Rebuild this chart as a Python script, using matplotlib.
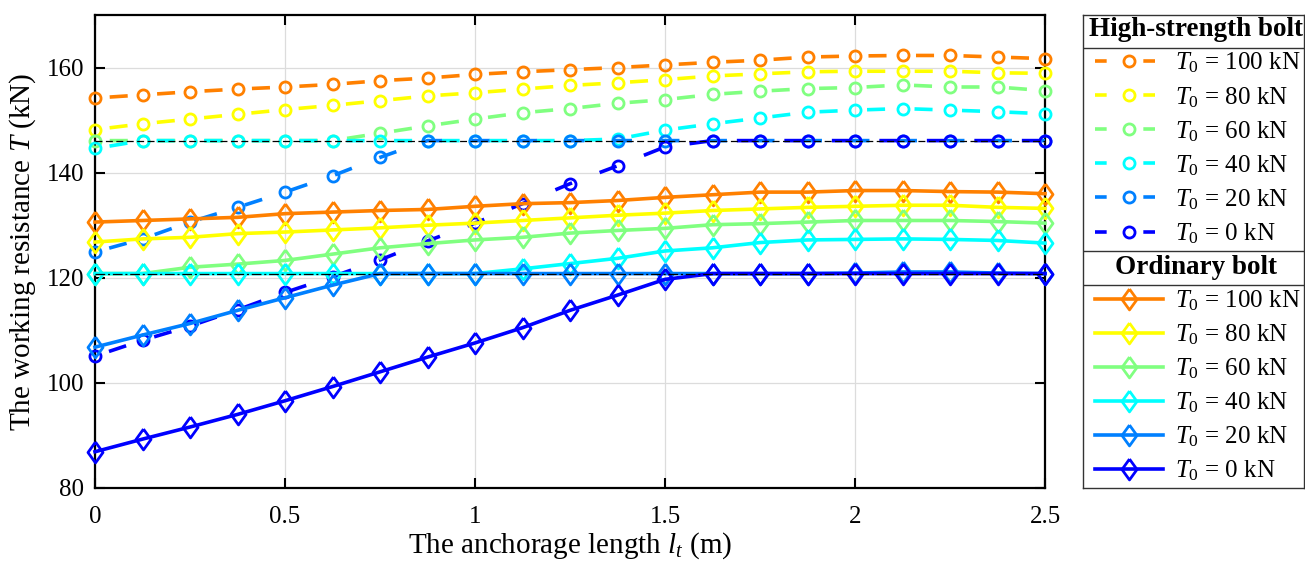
import matplotlib
matplotlib.use("Agg")
import matplotlib.pyplot as plt
from matplotlib.lines import Line2D

# === Fonts ===
plt.rcParams['font.family'] = 'Liberation Serif'
plt.rcParams['mathtext.fontset'] = 'custom'
plt.rcParams['mathtext.rm'] = 'Liberation Serif'
plt.rcParams['mathtext.it'] = 'Liberation Serif:italic'
plt.rcParams['mathtext.bf'] = 'Liberation Serif:bold'
plt.rcParams['lines.scale_dashes'] = False

# === Data ===
anchor_len = [0, 0.125, 0.25, 0.375, 0.5, 0.625, 0.75, 0.875, 1.0, 1.125, 1.25,
              1.375, 1.5, 1.625, 1.75, 1.875, 2.0, 2.125, 2.25, 2.375, 2.5]
pretension = [100, 80, 60, 40, 20, 0]  # T0 (kN)

# high-strength bolt, working resistance T (kN)
hs_100 = [154.2, 154.8, 155.4, 155.9, 156.3, 156.8, 157.5, 158.0, 158.7, 159.2, 159.6,
          160.0, 160.5, 161.0, 161.4, 162.0, 162.2, 162.3, 162.3, 162.0, 161.7]
hs_80 = [148.2, 149.3, 150.2, 151.1, 152.0, 152.8, 153.7, 154.6, 155.2, 155.9, 156.6,
         157.1, 157.7, 158.4, 158.8, 159.2, 159.3, 159.3, 159.3, 159.0, 158.9]
hs_60 = [146.1, 146.1, 146.1, 146.1, 146.1, 146.1, 147.5, 148.9, 150.2, 151.4, 152.2,
         153.2, 153.9, 154.9, 155.5, 156.0, 156.2, 156.7, 156.3, 156.3, 155.6]
hs_40 = [144.6, 146.1, 146.1, 146.1, 146.1, 146.1, 146.1, 146.1, 146.1, 146.1, 146.1,
         146.4, 148.1, 149.3, 150.4, 151.5, 151.9, 152.2, 151.9, 151.6, 151.2]
hs_20 = [124.9, 127.4, 130.6, 133.4, 136.3, 139.4, 142.9, 146.1, 146.1, 146.1, 146.1,
         146.1, 146.1, 146.1, 146.1, 146.1, 146.1, 146.1, 146.1, 146.1, 146.1]
hs_0 = [105.1, 108.1, 110.8, 113.9, 117.2, 120.2, 123.4, 127.0, 130.4, 134.1, 137.9,
        141.3, 144.9, 146.1, 146.1, 146.1, 146.1, 146.1, 146.1, 146.1, 146.1]

# ordinary bolt, working resistance T (kN)
ord_100 = [130.6, 130.9, 131.2, 131.5, 132.2, 132.5, 132.8, 133.0, 133.6, 134.1, 134.3,
           134.7, 135.3, 135.8, 136.3, 136.3, 136.6, 136.6, 136.4, 136.3, 136.0]
ord_80 = [126.8, 127.4, 127.7, 128.4, 128.7, 129.1, 129.5, 130.0, 130.4, 130.9, 131.4,
          131.9, 132.3, 132.8, 133.1, 133.4, 133.6, 133.8, 133.8, 133.4, 133.2]
ord_60 = [120.8, 120.8, 122.0, 122.6, 123.3, 124.5, 125.7, 126.5, 127.2, 127.7, 128.5,
          129.0, 129.4, 130.1, 130.3, 130.6, 130.9, 130.9, 130.9, 130.7, 130.4]
ord_40 = [120.8, 120.8, 120.8, 120.8, 120.8, 120.8, 120.8, 120.8, 120.8, 121.7, 122.7,
          123.7, 125.1, 125.7, 126.7, 127.2, 127.3, 127.4, 127.3, 127.1, 126.6]
ord_20 = [106.8, 109.1, 111.3, 113.8, 116.2, 118.6, 120.8, 120.8, 120.8, 120.8, 120.8,
          120.8, 120.8, 120.8, 120.8, 120.8, 120.9, 121.1, 121.1, 120.9, 120.8]
ord_0 = [86.9, 89.3, 91.6, 94.0, 96.6, 99.3, 102.1, 104.9, 107.6, 110.5, 113.8,
         116.7, 119.7, 120.8, 120.8, 120.8, 120.8, 120.8, 120.8, 120.8, 120.8]

hs_limit = 146.1   # upper bound, high-strength bolt
ord_limit = 120.8  # upper bound, ordinary bolt

hs_series = [hs_100, hs_80, hs_60, hs_40, hs_20, hs_0]
ord_series = [ord_100, ord_80, ord_60, ord_40, ord_20, ord_0]
colors = ['#ff8000', '#ffff00', '#80ff80', '#00ffff', '#0080ff', '#0000ff']

# === Styles ===
diamond = [(0, 1), (0.72, 0), (0, -1), (-0.72, 0), (0, 1)]
plot_dash = (23.6, (13.0, 21.2))
legend_dash = (0, (8.4, 26.4))
lw = 2.6
circle_kw = dict(marker='o', ms=8, mew=2.0, mfc='none')
diamond_kw = dict(marker=diamond, ms=15, mew=2.0, mfc='none')

# === Figure ===
W, H = 1305, 570
fig = plt.figure(figsize=(W / 100, H / 100), dpi=100)
ax = fig.add_axes([95 / W, 1 - 488 / H, 950 / W, 473 / H])

hs_handles = []
for vals, c, t0 in zip(hs_series, colors, pretension):
    ax.plot(anchor_len, vals, color=c, lw=lw, ls=plot_dash, clip_on=False,
            zorder=3, **circle_kw)
    hs_handles.append(Line2D([], [], color=c, lw=lw, ls=legend_dash,
                             label=f'$T_0$ = {t0} kN', **circle_kw))

ord_handles = []
for vals, c, t0 in zip(ord_series, colors, pretension):
    ln, = ax.plot(anchor_len, vals, color=c, lw=lw, ls='-', clip_on=False,
                  zorder=3, label=f'$T_0$ = {t0} kN', **diamond_kw)
    ord_handles.append(ln)

ax.axhline(hs_limit, color='black', lw=0.9, ls=(0, (5, 2.5)), zorder=5)
ax.axhline(ord_limit, color='black', lw=0.9, ls=(0, (7, 2, 1.5, 2)), zorder=5)

ax.set_xlim(0, 2.5)
ax.set_ylim(80, 170)
ax.set_xticks([0, 0.5, 1, 1.5, 2, 2.5])
ax.set_xticklabels(['0', '0.5', '1', '1.5', '2', '2.5'])
ax.set_yticks([80, 100, 120, 140, 160])
ax.grid(True, color='#dcdcdc', lw=0.9)
ax.set_axisbelow(True)
for sp in ax.spines.values():
    sp.set_linewidth(1.6)
ax.tick_params(direction='in', length=7, width=1.5, top=True, right=True, labelsize=18)
ax.tick_params(axis='x', pad=13)
ax.tick_params(axis='y', pad=8)
ax.set_xlabel('The anchorage length $l_t$ (m)', fontsize=21, labelpad=2)
ax.set_ylabel('The working resistance $T$ (kN)', fontsize=21, labelpad=6)

# === Legend panel ===
lax = fig.add_axes([1083 / W, 1 - 488 / H, 221 / W, 473 / H])
lax.set_xticks([])
lax.set_yticks([])
for sp in lax.spines.values():
    sp.set_linewidth(1.0)
    sp.set_color('0.2')
for yy in [0.9295, 0.5017, 0.4292]:
    lax.axhline(yy, color='0.2', lw=1.0)
lax.text(0.51, 0.9683, 'High-strength bolt', ha='center', va='center',
         fontsize=19.5, fontweight='bold', transform=lax.transAxes)
lax.text(0.51, 0.4658, 'Ordinary bolt', ha='center', va='center',
         fontsize=19.5, fontweight='bold', transform=lax.transAxes)

leg_kw = dict(loc='center left', frameon=False, fontsize=18, borderpad=0,
              borderaxespad=0, handlelength=2.72, handletextpad=0.48,
              labelspacing=0.38)
leg1 = lax.legend(handles=hs_handles, bbox_to_anchor=(0.054, 0.718), **leg_kw)
lax.add_artist(leg1)
lax.legend(handles=ord_handles, bbox_to_anchor=(0.054, 0.216), **leg_kw)

fig.savefig('out.png', dpi=100)
